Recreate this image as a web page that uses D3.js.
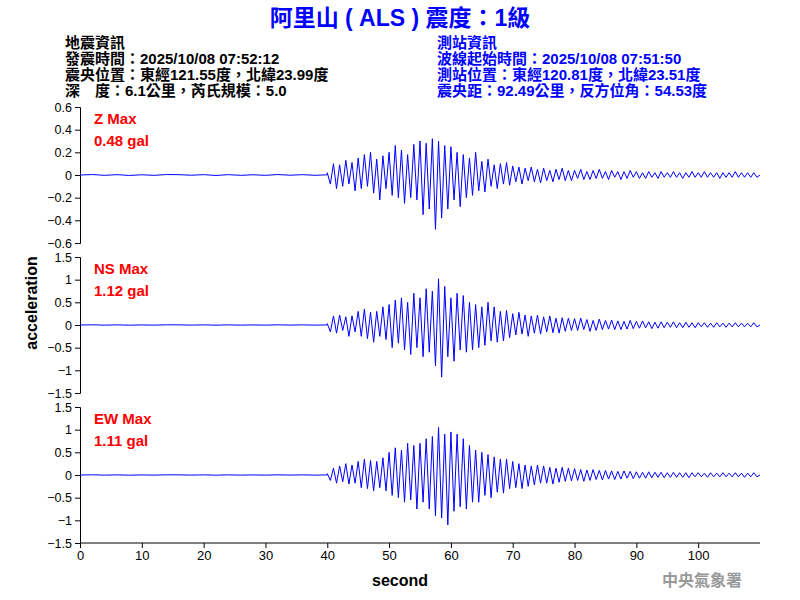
<!DOCTYPE html>
<html><head><meta charset="utf-8">
<script src="https://cdn.jsdelivr.net/npm/d3@7"></script>
<style>body{margin:0;background:#fff}text{font-family:"Liberation Sans",Arial,"Noto Sans CJK TC",sans-serif}</style>
</head><body><svg id="c" width="800" height="600"></svg>
<script>
const preValues=[0,0.004,-0.003,0.003,-0.004,0.002,-0.003,0.004,0.003,-0.002,0.003,-0.004,0.003,-0.003,0.002,-0.003,0.004,-0.002,0.003,-0.003,0.002];
const startTime=40, sampleStep=0.5;
const zValues=[0.02,-0.08,0.1,-0.12,0.09,-0.1,0.13,-0.08,0.11,-0.14,
0.15,-0.12,0.18,-0.1,0.2,-0.16,0.14,-0.22,0.17,-0.12,
0.2,-0.18,0.26,-0.2,0.22,-0.25,0.18,-0.2,0.27,-0.22,
0.3,-0.35,0.28,-0.3,0.32,-0.48,0.3,-0.38,0.26,-0.3,
0.25,-0.22,0.2,-0.28,0.18,-0.2,0.15,-0.18,0.2,-0.14,
0.12,-0.15,0.14,-0.1,0.09,-0.12,0.1,-0.08,0.11,-0.09,
0.08,-0.06,0.07,-0.08,0.06,-0.05,0.07,-0.06,0.05,-0.07,0.06,-0.05,0.04,-0.06,0.05,-0.04,0.06,-0.05,0.04,-0.05,
0.04,-0.03,0.05,-0.04,0.03,-0.04,0.04,-0.03,0.05,-0.03,0.03,-0.04,0.04,-0.02,0.03,-0.04,0.03,-0.03,0.04,-0.02,
0.03,-0.03,0.02,-0.03,0.03,-0.02,0.02,-0.03,0.03,-0.02,0.02,-0.02,0.03,-0.02,0.02,-0.03,0.02,-0.02,0.03,-0.02,
0.02,-0.02,0.03,-0.02,0.02,-0.02,0.02,-0.03,0.02,-0.02,0.02,-0.02,0.03,-0.02,0.02,-0.02,0.02,-0.02,0.02,-0.02,0];
const nsValues=[0.03,-0.15,0.2,-0.18,0.22,-0.12,0.18,-0.25,0.2,-0.15,
0.3,-0.25,0.35,-0.3,0.28,-0.38,0.3,-0.25,0.4,-0.32,
0.45,-0.5,0.55,-0.4,0.6,-0.55,0.5,-0.65,0.7,-0.5,
0.6,-0.7,0.8,-0.6,0.75,-0.9,1.02,-1.15,0.85,-0.7,
0.6,-0.8,0.7,-0.55,0.65,-0.6,0.5,-0.55,0.45,-0.5,
0.4,-0.45,0.5,-0.35,0.4,-0.38,0.3,-0.35,0.32,-0.28,
0.25,-0.22,0.28,-0.2,0.22,-0.25,0.2,-0.18,0.22,-0.2,0.18,-0.15,0.2,-0.17,0.15,-0.18,0.16,-0.14,0.15,-0.12,
0.14,-0.12,0.15,-0.1,0.12,-0.14,0.1,-0.12,0.13,-0.1,0.1,-0.09,0.11,-0.1,0.09,-0.1,0.08,-0.09,0.1,-0.08,
0.08,-0.07,0.09,-0.06,0.07,-0.08,0.06,-0.07,0.07,-0.06,0.06,-0.05,0.07,-0.06,0.05,-0.06,0.06,-0.05,0.05,-0.06,
0.05,-0.04,0.05,-0.05,0.04,-0.05,0.05,-0.04,0.04,-0.05,0.04,-0.04,0.05,-0.04,0.04,-0.04,0.04,-0.04,0.05,-0.04,0];
const ewValues=[0.03,-0.12,0.15,-0.18,0.2,-0.15,0.25,-0.2,0.22,-0.18,
0.3,-0.28,0.35,-0.3,0.32,-0.35,0.3,-0.28,0.38,-0.35,
0.5,-0.45,0.6,-0.5,0.55,-0.6,0.7,-0.55,0.65,-0.75,
0.7,-0.6,0.8,-0.75,0.85,-0.9,1.05,-0.95,0.9,-1.1,
0.95,-0.8,0.9,-0.7,0.8,-0.75,0.65,-0.6,0.55,-0.6,
0.5,-0.45,0.45,-0.5,0.4,-0.38,0.35,-0.4,0.35,-0.3,
0.3,-0.28,0.25,-0.3,0.22,-0.25,0.2,-0.22,0.22,-0.18,0.2,-0.18,0.17,-0.2,0.15,-0.16,0.17,-0.14,0.15,-0.13,
0.14,-0.12,0.12,-0.14,0.11,-0.12,0.12,-0.1,0.1,-0.11,0.1,-0.09,0.09,-0.1,0.08,-0.09,0.09,-0.07,0.08,-0.08,
0.07,-0.07,0.06,-0.07,0.07,-0.06,0.06,-0.05,0.06,-0.06,0.05,-0.05,0.06,-0.05,0.05,-0.05,0.05,-0.06,0.05,-0.04,
0.05,-0.04,0.04,-0.05,0.05,-0.04,0.04,-0.04,0.05,-0.04,0.04,-0.04,0.05,-0.04,0.04,-0.05,0.04,-0.04,0.05,-0.04,0];
const panels=[
 {label:"Z Max",peak:"0.48 gal",values:zValues,domain:[-0.6,0.6],ticks:[-0.6,-0.4,-0.2,0,0.2,0.4,0.6],top:107,bottom:243},
 {label:"NS Max",peak:"1.12 gal",values:nsValues,domain:[-1.5,1.5],ticks:[-1.5,-1,-0.5,0,0.5,1,1.5],top:257,bottom:393},
 {label:"EW Max",peak:"1.11 gal",values:ewValues,domain:[-1.5,1.5],ticks:[-1.5,-1,-0.5,0,0.5,1,1.5],top:407,bottom:543}];
const xTicks=[0,10,20,30,40,50,60,70,80,90,100];
const leftInfo=["地震資訊","發震時間：2025/10/08 07:52:12","震央位置：東經121.55度，北緯23.99度","深　度：6.1公里，芮氏規模：5.0"];
const rightInfo=["測站資訊","波線起始時間：2025/10/08 07:51:50","測站位置：東經120.81度，北緯23.51度","震央距：92.49公里，反方位角：54.53度"];

const svg=d3.select("#c");
const x=d3.scaleLinear().domain([0,110]).range([80,760]);
svg.append("text").attr("x",400).attr("y",26).attr("text-anchor","middle").attr("fill","#0000ff")
 .attr("font-size",23).attr("font-weight","bold").text("阿里山 ( ALS ) 震度：1級");
leftInfo.forEach((t,i)=>svg.append("text").attr("x",65).attr("y",48+i*16).attr("font-size",15).attr("fill","#000").attr("font-weight","bold").text(t));
rightInfo.forEach((t,i)=>svg.append("text").attr("x",437).attr("y",48+i*16).attr("font-size",15).attr("fill","#0000ff").attr("font-weight","bold").text(t));

panels.forEach(p=>{
 const y=d3.scaleLinear().domain(p.domain).range([p.bottom,p.top]);
 const g=svg.append("g").attr("transform","translate(80,0)");
 g.call(d3.axisLeft(y).tickValues(p.ticks).tickSize(5).tickFormat(d3.format("")));
 g.selectAll("text").attr("font-size",12.5).attr("fill","#000");
 g.select(".domain").attr("stroke","#000");
 const pts=preValues.map((v,i)=>[i*2,v]).concat(p.values.map((v,i)=>[startTime+i*sampleStep,v]));
 svg.append("path").attr("d",d3.line().x(d=>x(d[0])).y(d=>y(d[1]))(pts)).attr("fill","none").attr("stroke","#0000ff").attr("stroke-width",1);
 svg.append("text").attr("x",94).attr("y",p.top+17).attr("fill","#ff0000").attr("font-size",15).attr("font-weight","bold").text(p.label);
 svg.append("text").attr("x",94).attr("y",p.top+39).attr("fill","#ff0000").attr("font-size",15).attr("font-weight","bold").text(p.peak);
});
const xa=svg.append("g").attr("transform","translate(0,543)").call(d3.axisBottom(x).tickValues(xTicks).tickSize(5));
xa.selectAll("text").attr("font-size",13).attr("fill","#000");
xa.select(".domain").attr("d","M80,0H760");
svg.append("text").attr("x",400).attr("y",586).attr("text-anchor","middle").attr("font-size",16).attr("font-weight","bold").text("second");
svg.append("text").attr("transform","translate(37,303) rotate(-90)").attr("text-anchor","middle").attr("font-size",16).attr("font-weight","bold").text("acceleration");
svg.append("text").attr("x",702).attr("y",586).attr("text-anchor","middle").attr("font-size",16).attr("font-weight","bold").attr("fill","#999").attr("font-family","Noto Sans CJK TC").text("中央氣象署");
</script></body></html>
